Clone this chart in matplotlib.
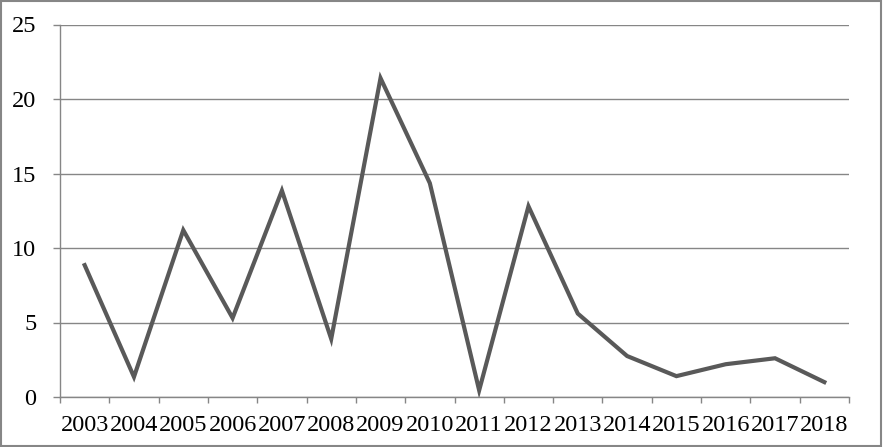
import numpy as np
import matplotlib.pyplot as plt
from matplotlib.patches import Rectangle

# DATA
years = ['2003', '2004', '2005', '2006', '2007', '2008', '2009', '2010',
         '2011', '2012', '2013', '2014', '2015', '2016', '2017', '2018']
values = [8.85, 1.35, 11.2, 5.3, 13.85, 3.9, 21.4, 14.35,
          0.45, 12.8, 5.6, 2.75, 1.4, 2.2, 2.6, 1.0]

# STYLE
plt.rcParams['font.family'] = ['Liberation Serif', 'DejaVu Serif']
GRID = '#868686'
FS = 17.5

fig = plt.figure(figsize=(8.83, 4.47), dpi=100)
ax = fig.add_axes([60 / 883, 50 / 447, 789 / 883, 372.5 / 447])

x = np.arange(len(years))
ax.plot(x, values, color='#595959', linewidth=3.0, solid_joinstyle='miter')

ax.set_xlim(-0.5, len(years) - 0.5)
ax.set_ylim(0, 25)
ax.set_yticks(range(0, 26, 5))
ax.yaxis.grid(True, color=GRID, linewidth=1)
ax.set_axisbelow(True)

# category labels in the middle, tick marks between categories
ax.set_xticks(x)
ax.set_xticklabels(years)
ax.set_xticks(np.arange(-0.5, len(years)), minor=True)
ax.tick_params(axis='x', which='major', length=0, pad=13, labelsize=FS)
ax.tick_params(axis='x', which='minor', length=4.3, color=GRID, width=1)
ax.tick_params(axis='y', length=5, color=GRID, width=1, pad=12, labelsize=FS)

for side in ['top', 'right']:
    ax.spines[side].set_visible(False)
for side in ['left', 'bottom']:
    ax.spines[side].set_color(GRID)
    ax.spines[side].set_linewidth(1)

# chart border
fig.patches.append(Rectangle((0.001, 0.002), 0.997, 0.995, transform=fig.transFigure,
                             fill=False, edgecolor='#868686', linewidth=1.5))

fig.savefig('out.png', dpi=100)
